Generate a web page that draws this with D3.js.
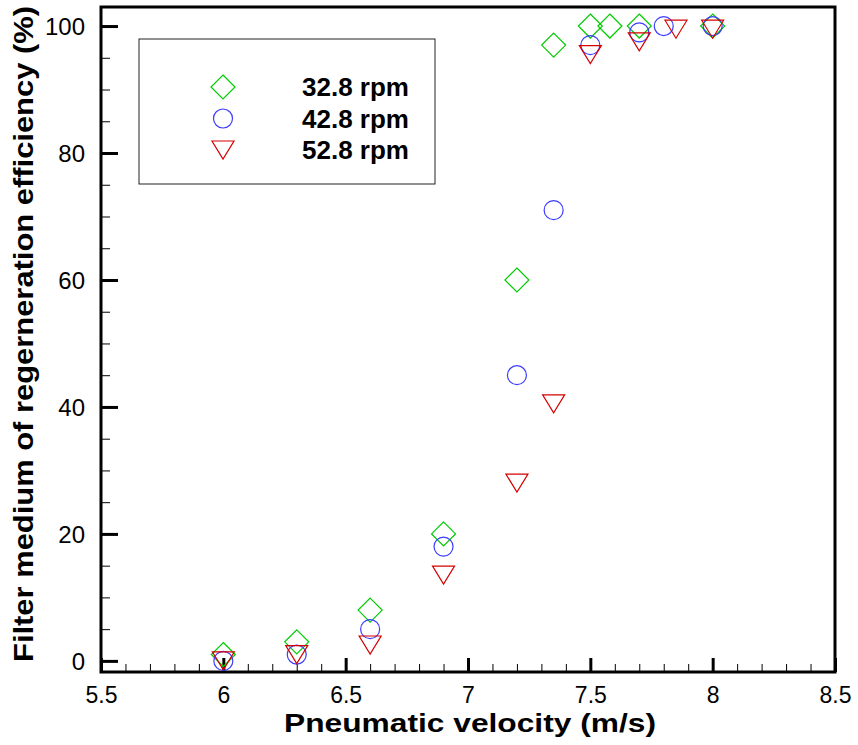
<!DOCTYPE html>
<html>
<head>
<meta charset="utf-8">
<script src="https://cdn.jsdelivr.net/npm/d3@7"></script>
<style>
  body { margin: 0; background: #fff; }
  text { font-family: Arial, "Liberation Sans", sans-serif; }
</style>
</head>
<body>
<div id="chart"></div>
<script>
var svgWidth = 858;
var svgHeight = 745;

// data
var seriesNames = ["32.8 rpm", "42.8 rpm", "52.8 rpm"];
var seriesColors = ["#00cc00", "#3c3cff", "#d40000"];
var seriesShapes = ["diamond", "circle", "triangle"];

var x328 = [6, 6.3, 6.6, 6.9, 7.2, 7.35, 7.5, 7.58, 7.7, 8];
var y328 = [1, 3, 8, 20, 60, 97, 100, 100, 100, 100];

var x428 = [6, 6.3, 6.6, 6.9, 7.2, 7.35, 7.5, 7.7, 7.8, 8];
var y428 = [0, 1, 5, 18, 45, 71, 97, 99, 100, 100];

var x528 = [6, 6.3, 6.6, 6.9, 7.2, 7.35, 7.5, 7.7, 7.85, 8];
var y528 = [0, 1, 2.5, 13.5, 28, 40.5, 95.5, 97.5, 99.5, 99.5];

var xTicks = [5.5, 6, 6.5, 7, 7.5, 8, 8.5];
var yTicks = [0, 20, 40, 60, 80, 100];

var xLabel = "Pneumatic velocity (m/s)";
var yLabel = "Filter medium of regerneration efficiency (%)";

var allX = [x328, x428, x528];
var allY = [y328, y428, y528];

var svg = d3.select("#chart")
  .append("svg")
  .attr("width", svgWidth)
  .attr("height", svgHeight);

var plot = { left: 101, right: 835, top: 7, bottom: 672 };

var xScale = d3.scaleLinear().domain([5.5, 8.5]).range([plot.left, plot.right]);
var yScale = d3.scaleLinear().domain([-1.75, 103]).range([plot.bottom, plot.top]);

// minor + major ticks, drawn inward
var xMinor = d3.range(55, 86).map(d => d / 10);
var yMinor = d3.range(0, 101, 5);

var bottomAxis = d3.axisBottom(xScale).tickValues(xMinor).tickSize(-8).tickFormat("");
svg.append("g")
  .attr("transform", `translate(0, ${plot.bottom})`)
  .call(bottomAxis)
  .call(g => g.select(".domain").remove())
  .selectAll("line").attr("stroke", "#000").attr("stroke-width", 1);

svg.append("g")
  .attr("transform", `translate(0, ${plot.bottom})`)
  .call(d3.axisBottom(xScale).tickValues(xTicks).tickSize(-14).tickFormat(d3.format("")))
  .call(g => g.select(".domain").remove())
  .call(g => g.selectAll("line").attr("stroke", "#000").attr("stroke-width", 3))
  .call(g => g.selectAll("text")
    .attr("y", 31).attr("dy", 0)
    .style("font-size", "23px").attr("fill", "#000"));

var leftAxis = d3.axisLeft(yScale).tickValues(yMinor).tickSize(-9).tickFormat("");
svg.append("g")
  .attr("transform", `translate(${plot.left}, 0)`)
  .call(leftAxis)
  .call(g => g.select(".domain").remove())
  .selectAll("line").attr("stroke", "#000").attr("stroke-width", 1);

svg.append("g")
  .attr("transform", `translate(${plot.left}, 0)`)
  .call(d3.axisLeft(yScale).tickValues(yTicks).tickSize(-17).tickFormat(d3.format("")))
  .call(g => g.select(".domain").remove())
  .call(g => g.selectAll("line").attr("stroke", "#000").attr("stroke-width", 3))
  .call(g => g.selectAll("text")
    .attr("x", -16).attr("dy", "0.35em")
    .style("font-size", "24px").attr("fill", "#000"));

// frame
svg.append("rect")
  .attr("x", plot.left)
  .attr("y", plot.top)
  .attr("width", plot.right - plot.left)
  .attr("height", plot.bottom - plot.top)
  .attr("fill", "none")
  .attr("stroke", "#000")
  .attr("stroke-width", 3);

function markerPath(shape) {
  if (shape === "diamond") return "M0,-12L12,0L0,12L-12,0Z";
  if (shape === "triangle") return "M-11,-9L11,-9L0,9Z";
  return null;
}

function drawMarker(g, shape, color) {
  if (shape === "circle") {
    g.append("circle").attr("r", 9.5)
      .attr("fill", "none").attr("stroke", color).attr("stroke-width", 1.2);
  } else {
    g.append("path").attr("d", markerPath(shape))
      .attr("fill", "none").attr("stroke", color).attr("stroke-width", 1.2);
  }
}

// points
seriesNames.forEach(function(name, i) {
  var pts = allX[i].map((v, j) => ({ x: v, y: allY[i][j] }));
  svg.append("g").selectAll("g")
    .data(pts)
    .enter()
    .append("g")
    .attr("transform", d => `translate(${xScale(d.x)}, ${yScale(d.y)})`)
    .each(function() { drawMarker(d3.select(this), seriesShapes[i], seriesColors[i]); });
});

// legend
var legend = svg.append("g");
legend.append("rect")
  .attr("x", 139).attr("y", 39)
  .attr("width", 296).attr("height", 145)
  .attr("fill", "#fff")
  .attr("stroke", "#222")
  .attr("stroke-width", 1);

seriesNames.forEach(function(name, i) {
  var row = legend.append("g").attr("transform", `translate(0, ${87 + i * 31.5})`);
  var m = row.append("g").attr("transform", "translate(223, 0)");
  drawMarker(m, seriesShapes[i], seriesColors[i]);
  row.append("text")
    .attr("x", 302)
    .attr("y", 9)
    .style("font-size", "26px")
    .style("font-weight", "bold")
    .text(name);
});

// axis labels
svg.append("text")
  .attr("x", 470)
  .attr("y", 732)
  .attr("text-anchor", "middle")
  .attr("textLength", 372)
  .attr("lengthAdjust", "spacingAndGlyphs")
  .style("font-size", "26px")
  .style("font-weight", "bold")
  .text(xLabel);

svg.append("text")
  .attr("transform", "translate(33, 334) rotate(-90)")
  .attr("text-anchor", "middle")
  .attr("textLength", 656)
  .attr("lengthAdjust", "spacingAndGlyphs")
  .style("font-size", "28px")
  .style("font-weight", "bold")
  .text(yLabel);
</script>
</body>
</html>
